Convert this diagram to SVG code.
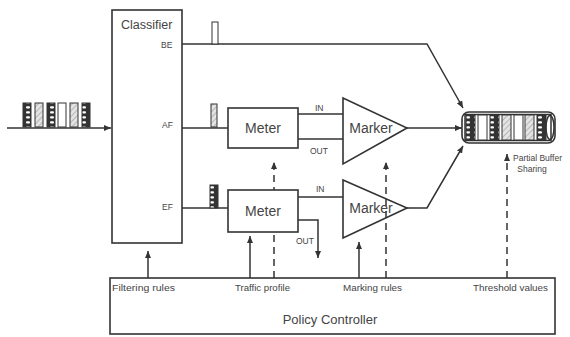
<svg xmlns="http://www.w3.org/2000/svg" width="570" height="337" viewBox="0 0 570 337">
<defs>
<style>
.ln{stroke:#333;stroke-width:1.5;fill:none}
.dash{stroke:#333;stroke-width:1.5;fill:none;stroke-dasharray:7 5}
.box{stroke:#333;stroke-width:1.6;fill:#fff}
.tri{stroke:#333;stroke-width:1.6;fill:none}
.t{font-family:"Liberation Sans",Arial,sans-serif;fill:#444}
.sm{font-size:8.5px}
.lb{font-size:9.5px}
.md{font-size:14px}
.cell{stroke:#333;stroke-width:1;fill:#fff}
.dot{stroke:#333;stroke-width:1;fill:url(#dots)}
.hat{stroke:#333;stroke-width:1;fill:url(#hatch)}
</style>
<marker id="ah" markerWidth="7" markerHeight="6" refX="7" refY="3" orient="auto" markerUnits="userSpaceOnUse">
<path d="M0,0 L7,3 L0,6 Z" fill="#333"/>
</marker>
<pattern id="dots" width="8" height="5" patternUnits="userSpaceOnUse">
<rect width="8" height="5" fill="#333"/>
<rect x="2" y="1.2" width="4" height="2.4" rx="1" fill="#fff"/>
</pattern>
<pattern id="hatch" width="4" height="4" patternUnits="userSpaceOnUse" patternTransform="rotate(45)">
<rect width="4" height="4" fill="#e4e4e4"/>
<line x1="0" y1="0" x2="0" y2="4" stroke="#888" stroke-width="1"/>
</pattern>
</defs>
<rect width="570" height="337" fill="#fff"/>

<g id="connectors">
<line class="ln" x1="7" y1="128" x2="111" y2="128" marker-end="url(#ah)"/>
<polyline class="ln" points="182,44 427,44 463,108" marker-end="url(#ah)"/>
<line class="ln" x1="182" y1="128" x2="228" y2="128"/>
<line class="ln" x1="182" y1="208" x2="228" y2="208"/>
<line class="ln" x1="298" y1="114" x2="343" y2="114"/>
<line class="ln" x1="298" y1="139" x2="343" y2="139"/>
<line class="ln" x1="298" y1="197" x2="343" y2="197"/>
<polyline class="ln" points="298,220 318,220 318,258" marker-end="url(#ah)"/>
<line class="ln" x1="407" y1="128" x2="462" y2="128" marker-end="url(#ah)"/>
<polyline class="ln" points="407,208 427,208 463,146" marker-end="url(#ah)"/>
<line class="ln" x1="148" y1="278" x2="148" y2="251" marker-end="url(#ah)"/>
<line class="ln" x1="250" y1="278" x2="250" y2="236" marker-end="url(#ah)"/>
<line class="ln" x1="359" y1="278" x2="359" y2="242" marker-end="url(#ah)"/>
<line class="dash" x1="274" y1="278" x2="274" y2="162" marker-end="url(#ah)"/>
<line class="dash" x1="386" y1="278" x2="386" y2="162" marker-end="url(#ah)"/>
<line class="dash" x1="507" y1="278" x2="507" y2="154" marker-end="url(#ah)"/>
<text class="t sm" x="315" y="111">IN</text>
<text class="t sm" x="310" y="154">OUT</text>
<text class="t sm" x="316" y="192">IN</text>
<text class="t sm" x="296" y="244">OUT</text>
</g>

<g id="input-packets">
<rect class="dot" x="23" y="103" width="8" height="24"/>
<rect class="hat" x="35" y="103" width="8" height="24"/>
<rect class="dot" x="47" y="103" width="8" height="24"/>
<rect class="cell" x="58" y="103" width="8" height="24"/>
<rect class="hat" x="70" y="103" width="8" height="24"/>
<rect class="dot" x="82" y="103" width="8" height="24"/>
</g>

<g id="classifier">
<rect class="box" x="112" y="10" width="70" height="233"/>
<text class="t" x="121" y="29" font-size="12.5">Classifier</text>
<text class="t sm" x="161" y="48">BE</text>
<text class="t sm" x="162" y="128">AF</text>
<text class="t sm" x="162" y="210">EF</text>
</g>

<g id="class-packets">
<rect class="cell" x="212" y="22" width="6" height="22"/>
<rect class="hat" x="211" y="104" width="6" height="23"/>
<rect class="dot" x="210" y="185" width="8" height="23"/>
</g>

<g id="meter-af">
<rect class="box" x="228" y="108" width="70" height="40"/>
<text class="t md" x="263" y="133" text-anchor="middle">Meter</text>
</g>

<g id="marker-af">
<polygon class="tri" points="343,98 343,164 407,128"/>
<text class="t md" x="371" y="133" text-anchor="middle">Marker</text>
</g>

<g id="meter-ef">
<rect class="box" x="228" y="190" width="70" height="42"/>
<text class="t md" x="263" y="216" text-anchor="middle">Meter</text>
</g>

<g id="marker-ef">
<polygon class="tri" points="343,180 343,238 407,208"/>
<text class="t md" x="371" y="213" text-anchor="middle">Marker</text>
</g>

<g id="queue">
<rect class="box" x="462" y="112" width="93" height="31" rx="7"/>
<rect class="ln" x="465" y="114.5" width="86" height="26" stroke-width="1"/>
<rect class="dot" x="466" y="115" width="9" height="25"/>
<rect class="cell" x="478" y="115" width="9" height="25"/>
<rect class="dot" x="490" y="115" width="9" height="25"/>
<rect class="hat" x="502" y="115" width="9" height="25"/>
<rect class="cell" x="514" y="115" width="9" height="25"/>
<rect class="hat" x="525" y="115" width="9" height="25"/>
<rect class="dot" x="537" y="115" width="9" height="25"/>
<ellipse class="ln" cx="550" cy="127.5" rx="4" ry="12" stroke-width="1.2"/>
<text class="t sm" x="513" y="161">Partial Buffer</text>
<text class="t sm" x="532" y="172" text-anchor="middle">Sharing</text>
</g>

<g id="policy-controller">
<rect class="box" x="110" y="278" width="445" height="56"/>
<text class="t lb" x="112" y="291" textLength="63" lengthAdjust="spacingAndGlyphs">Filtering rules</text>
<text class="t lb" x="235" y="291" textLength="55" lengthAdjust="spacingAndGlyphs">Traffic profile</text>
<text class="t lb" x="343" y="291" textLength="59" lengthAdjust="spacingAndGlyphs">Marking rules</text>
<text class="t lb" x="473" y="291" textLength="75" lengthAdjust="spacingAndGlyphs">Threshold values</text>
<text class="t" x="330" y="324" font-size="13" text-anchor="middle">Policy Controller</text>
</g>
</svg>
